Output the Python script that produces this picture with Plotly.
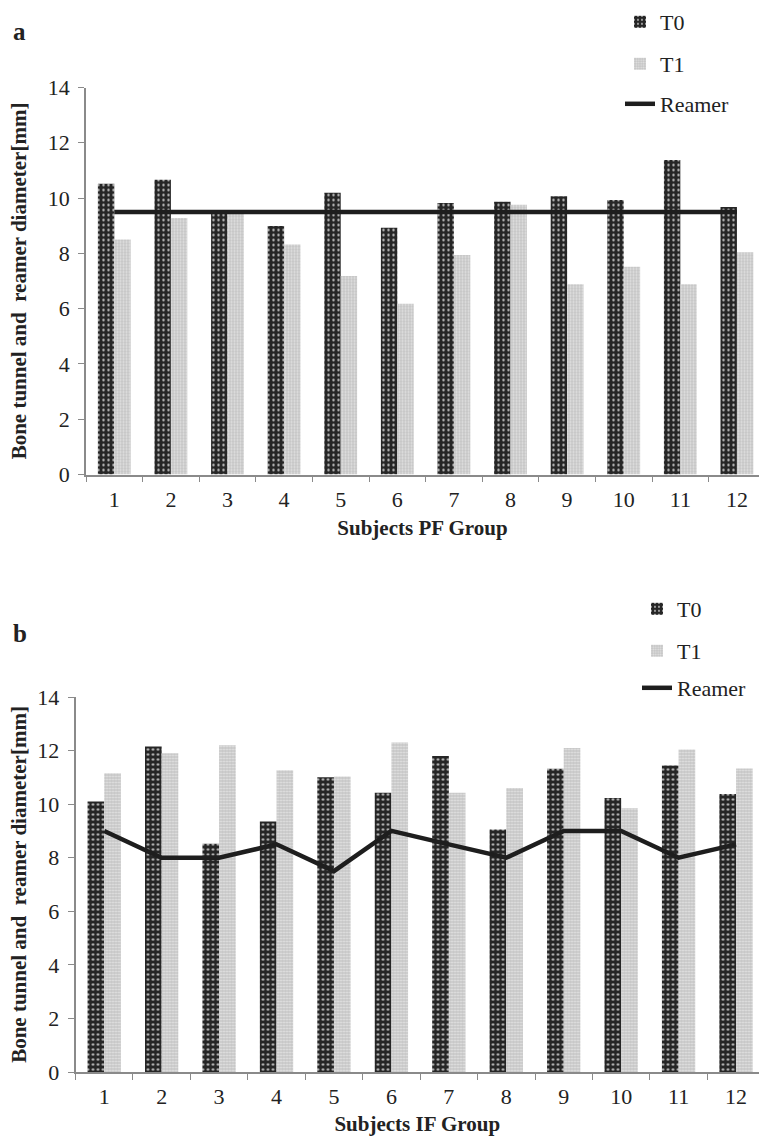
import plotly.graph_objects as go

subjects = [str(i) for i in range(1, 13)]

pf_t0 = [10.52, 10.66, 9.55, 8.99, 10.19, 8.93, 9.82, 9.87, 10.07, 9.93, 11.38, 9.68]
pf_t1 = [8.50, 9.28, 9.45, 8.32, 7.18, 6.18, 7.94, 9.76, 6.88, 7.52, 6.88, 8.04]
pf_reamer = [9.5] * 12

if_t0 = [10.10, 12.15, 8.52, 9.35, 11.00, 10.43, 11.80, 9.05, 11.32, 10.23, 11.44, 10.38]
if_t1 = [11.15, 11.90, 12.20, 11.27, 11.03, 12.30, 10.43, 10.60, 12.10, 9.85, 12.04, 11.33]
if_reamer = [9.0, 8.0, 8.0, 8.5, 7.5, 9.0, 8.5, 8.0, 9.0, 9.0, 8.0, 8.5]

y_ticks = [0, 2, 4, 6, 8, 10, 12, 14]

FONT = "Liberation Serif"
W, H = 759, 1136


def px(x):   # page x -> paper fraction
    return x / W


def py(y):   # page y -> paper fraction
    return 1 - y / H


t0_marker = dict(color="#2a2a2a", line=dict(width=0),
                 pattern=dict(shape=".", fgcolor="#c4c4c4", bgcolor="#262626",
                              size=5, solidity=0.18, fillmode="replace"))
t1_marker = dict(color="#cccccc", line=dict(width=0),
                 pattern=dict(shape=".", fgcolor="#e2e2e2", bgcolor="#c6c6c6",
                              size=3, solidity=0.4, fillmode="replace"))

fig = go.Figure()

panels = [
    (pf_t0, pf_t1, pf_reamer, "x", "y", ("legend", "legend2", "legend3")),
    (if_t0, if_t1, if_reamer, "x2", "y2", ("legend4", "legend5", "legend6")),
]
for t0, t1, rm, xa, ya, lg in panels:
    fig.add_trace(go.Bar(x=subjects, y=t0, name="T0", marker=t0_marker,
                         xaxis=xa, yaxis=ya, legend=lg[0]))
    fig.add_trace(go.Bar(x=subjects, y=t1, name="T1", marker=t1_marker,
                         xaxis=xa, yaxis=ya, legend=lg[1]))
    fig.add_trace(go.Scatter(x=subjects, y=rm, name="Reamer", mode="lines",
                             line=dict(color="#1e1e1e", width=4.5),
                             xaxis=xa, yaxis=ya, legend=lg[2]))


def xaxis_cfg(domain, title, rng, standoff):
    return dict(domain=domain, type="category", range=rng, automargin=False,
                tickson="boundaries", ticks="outside", ticklen=6,
                tickcolor="#8a8a8a", showline=True, linecolor="#8a8a8a",
                linewidth=1.5, showgrid=False, zeroline=False,
                ticklabelstandoff=4,
                tickfont=dict(family=FONT, size=22, color="#222"),
                title=dict(text="<b>" + title + "</b>", standoff=standoff,
                           font=dict(family=FONT, size=21, color="#222")))


def yaxis_cfg(domain, anchor, standoff):
    return dict(domain=domain, anchor=anchor, range=[0, 14], tickvals=y_ticks,
                automargin=False,
                ticks="outside", ticklen=6, tickcolor="#8a8a8a",
                showline=True, linecolor="#8a8a8a", linewidth=1.5,
                showgrid=False, zeroline=False, ticklabelstandoff=4,
                tickfont=dict(family=FONT, size=22, color="#222"),
                title=dict(text="<b>Bone tunnel and  reamer diameter[mm]</b>",
                           standoff=standoff,
                           font=dict(family=FONT, size=21, color="#222")))


def leg(x, y):
    return dict(x=px(x), y=py(y), xanchor="left", yanchor="middle",
                xref="paper", yref="paper", bgcolor="rgba(0,0,0,0)",
                borderwidth=0, visible=True,
                font=dict(family=FONT, size=22, color="#222"))


fig.update_layout(
    width=W, height=H,
    margin=dict(l=0, r=0, t=0, b=0, autoexpand=False),
    paper_bgcolor="white", plot_bgcolor="white",
    showlegend=True,
    barmode="group", bargap=0.42, bargroupgap=0,
    xaxis=xaxis_cfg([px(86), 1], "Subjects PF Group", [-0.5, 11.39], 10)
    | dict(anchor="y"),
    yaxis=yaxis_cfg([py(474.5), py(87.5)], "x", 15),
    xaxis2=xaxis_cfg([px(75.5), 1], "Subjects IF Group", [-0.5, 11.4], 10)
    | dict(anchor="y2"),
    yaxis2=yaxis_cfg([py(1072), py(697)], "x2", 5),
    legend=leg(620, 22),
    legend2=leg(620, 64),
    legend3=leg(620, 104),
    legend4=leg(637, 609),
    legend5=leg(637, 651),
    legend6=leg(637, 688),
    annotations=[
        dict(text="<b>a</b>", x=px(11), y=py(32), xref="paper", yref="paper",
             xanchor="left", yanchor="middle", showarrow=False,
             font=dict(family=FONT, size=25, color="#222")),
        dict(text="<b>b</b>", x=px(11), y=py(633), xref="paper", yref="paper",
             xanchor="left", yanchor="middle", showarrow=False,
             font=dict(family=FONT, size=25, color="#222")),
    ],
)

page_css = (
    "document.documentElement.style.margin='0';"
    "document.documentElement.style.overflow='hidden';"
    "document.body.style.margin='0';"
    "document.body.style.overflow='hidden';"
)
fig.write_html("out.html", post_script=page_css,
               config={"displayModeBar": False})
